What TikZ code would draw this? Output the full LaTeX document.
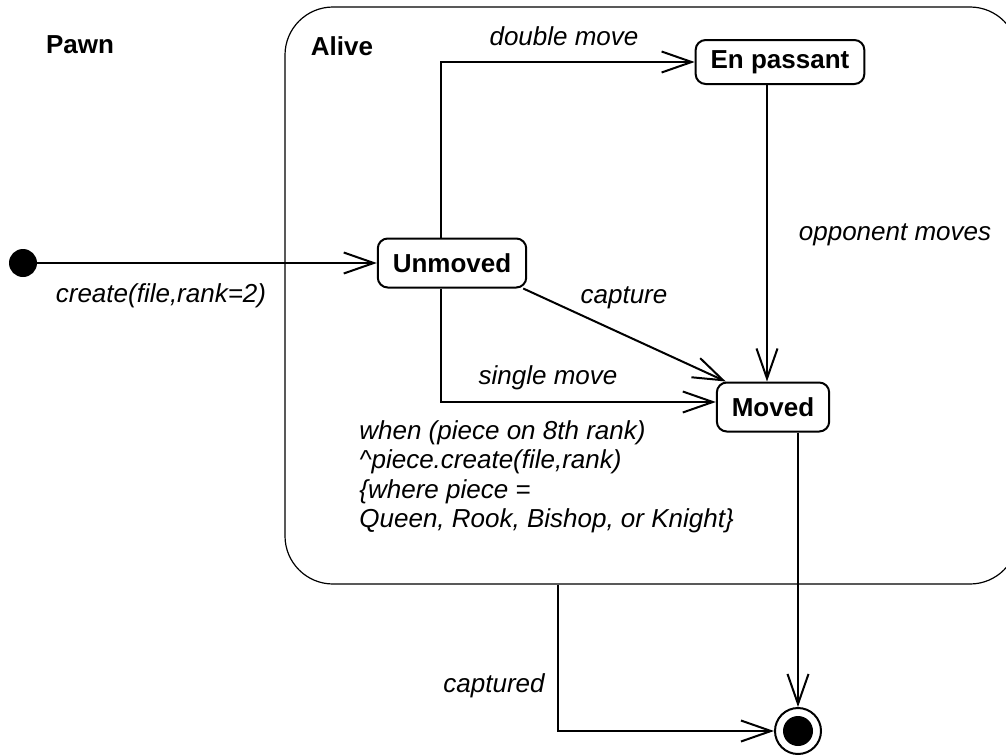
\documentclass[tikz,border=0pt]{standalone}
\usepackage{fontspec}
\setmainfont{Liberation Sans}
\usepackage{xcolor}
\usepackage{tikz}
\usetikzlibrary{positioning, calc, arrows.meta}
\definecolor{stateLine}{HTML}{000000}

\begin{document}
\begin{tikzpicture}[x=0.5pt, y=-0.5pt,
  lab/.style={font=\fontsize{13}{14.75}\selectfont\itshape, inner sep=0pt},
  ttl/.style={font=\fontsize{13}{14.75}\selectfont\bfseries, inner sep=0pt},
  state/.style={draw=stateLine, line width=1pt, rounded corners=5pt, inner xsep=7.5pt,
     minimum height=24.5pt, font=\fontsize{13}{14.75}\selectfont\bfseries},
  superstate/.style={draw=stateLine, line width=0.6pt, rounded corners=24pt},
  startstate/.style={circle, fill=black, minimum size=14pt, inner sep=0pt},
  endstate/.style={circle, draw=stateLine, line width=1pt, minimum size=23pt, inner sep=0pt},
  trans/.style={-{Straight Barb[length=15pt,width=10.5pt]}, line width=1pt}]
  \useasboundingbox (0,0) rectangle (1006,755);
  \clip (0,0) rectangle (1006,755);
  % composite state
  \node[superstate, minimum width=366.5pt, minimum height=288.5pt] (alive) at (651.5,295.5) {};
  \node[ttl] (pawnlab) at (80,45) {Pawn};
  \node[ttl] (alivelab) at (342,46) {Alive};
  % states
  \node[startstate] (init) at (23,263) {};
  \node[state] (unmoved) at (452,263) {Unmoved};
  \node[state, minimum height=22pt] (enpassant) at (780,62) {En passant};
  \node[state] (moved) at (773,407) {Moved};
  \node[endstate] (final) at (798,731) {};
  \fill (final) circle (7.5pt);
  % transitions
  \draw[trans] (init) -- (unmoved);
  \draw[trans] ([xshift=-5.5pt]unmoved.north) |- (enpassant.west);
  \draw[trans] ([xshift=-5.5pt]unmoved.south) |- ([yshift=2.5pt]moved.west);
  \draw[trans] ([xshift=-2pt]unmoved.south east) -- ([xshift=5pt]moved.north west);
  \draw[trans] ([xshift=-6.5pt]enpassant.south) -- ([xshift=-6.5pt]enpassant.south |- moved.north);
  \draw[trans] (final.north |- moved.south) -- (final.north);
  \draw[trans] ([xshift=-46.75pt]alive.south) |- (final.west);
  % labels
  \node[lab] (lbdouble) at (564,36) {double move};
  \node[lab] (lbopp) at (895,235) {opponent moves};
  \node[lab] (lbcreate) at (161,296) {create(file,rank=2)};
  \node[lab] (lbcapture) at (624,298) {capture};
  \node[lab] (lbsingle) at (548,378) {single move};
  \node[lab, anchor=north west, align=left] (lbwhen) at (359,420)
     {when (piece on 8th rank)\\\textasciicircum piece.create(file,rank)\\\{where piece =\\Queen, Rook, Bishop, or Knight\}};
  \node[lab] (lbcaptured) at (494,686) {captured};
\end{tikzpicture}
\end{document}
